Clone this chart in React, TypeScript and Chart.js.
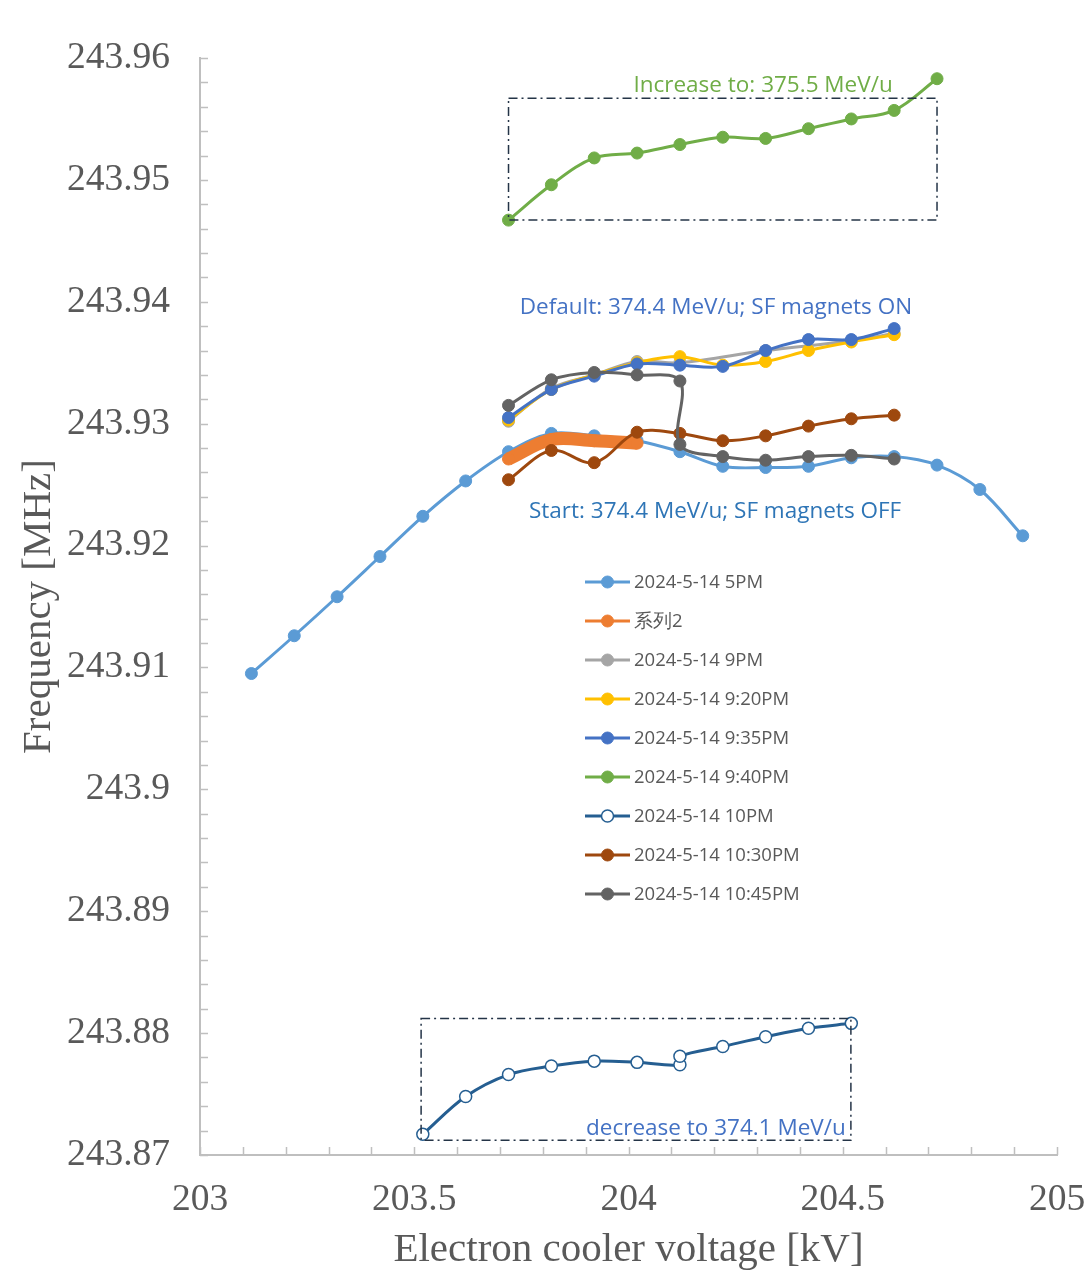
import React, { useEffect, useRef } from "react";
import { Chart, registerables } from "chart.js";

Chart.register(...registerables);

// ---------- tick labels ----------
const xTickValues = [203, 203.5, 204, 204.5, 205];
const yTickValues = [243.87, 243.88, 243.89, 243.9, 243.91, 243.92, 243.93, 243.94, 243.95, 243.96];

// ---------- series names ----------
const seriesNames = [
  "2024-5-14 5PM",
  "系列2",
  "2024-5-14 9PM",
  "2024-5-14 9:20PM",
  "2024-5-14 9:35PM",
  "2024-5-14 9:40PM",
  "2024-5-14 10PM",
  "2024-5-14 10:30PM",
  "2024-5-14 10:45PM",
];

// ---------- series values ----------
const x5PM = [203.12, 203.22, 203.32, 203.42, 203.52, 203.62, 203.72, 203.82, 203.92, 204.02, 204.12, 204.22, 204.32, 204.42, 204.52, 204.62, 204.72, 204.82, 204.92];
const y5PM = [243.9095, 243.9126, 243.9158, 243.9191, 243.9224, 243.9253, 243.9277, 243.9292, 243.929, 243.9286, 243.9277, 243.9265, 243.9264, 243.9265, 243.9272, 243.9273, 243.9266, 243.9246, 243.9208];

const xSeries2 = [203.72, 203.82, 203.92, 204.02];
const ySeries2 = [243.9271, 243.9287, 243.9286, 243.9284];

const x9PM = [203.72, 203.82, 203.92, 204.02, 204.12, 204.32, 204.52, 204.62];
const y9PM = [243.9302, 243.9329, 243.934, 243.9351, 243.935, 243.936, 243.9368, 243.9374];

const x920PM = [203.72, 203.82, 203.92, 204.02, 204.12, 204.22, 204.32, 204.42, 204.52, 204.62];
const y920PM = [243.9303, 243.9328, 243.934, 243.935, 243.9355, 243.9348, 243.9351, 243.936, 243.9367, 243.9373];

const x935PM = [203.72, 203.82, 203.92, 204.02, 204.12, 204.22, 204.32, 204.42, 204.52, 204.62];
const y935PM = [243.9305, 243.9328, 243.9339, 243.9349, 243.9348, 243.9347, 243.936, 243.9369, 243.9369, 243.9378];

const x940PM = [203.72, 203.82, 203.92, 204.02, 204.12, 204.22, 204.32, 204.42, 204.52, 204.62, 204.72];
const y940PM = [243.9467, 243.9496, 243.9518, 243.9522, 243.9529, 243.9535, 243.9534, 243.9542, 243.955, 243.9557, 243.9583];

const x10PM = [203.52, 203.62, 203.72, 203.82, 203.92, 204.02, 204.12, 204.12, 204.22, 204.32, 204.42, 204.52];
const y10PM = [243.8717, 243.8748, 243.8766, 243.8773, 243.8777, 243.8776, 243.8774, 243.8781, 243.8789, 243.8797, 243.8804, 243.8808];

const x1030PM = [203.72, 203.82, 203.92, 204.02, 204.12, 204.22, 204.32, 204.42, 204.52, 204.62];
const y1030PM = [243.9254, 243.9278, 243.9268, 243.9293, 243.9292, 243.9286, 243.929, 243.9298, 243.9304, 243.9307];

const x1045PM = [203.72, 203.82, 203.92, 204.02, 204.12, 204.12, 204.22, 204.32, 204.42, 204.52, 204.62];
const y1045PM = [243.9315, 243.9336, 243.9342, 243.934, 243.9335, 243.9283, 243.9273, 243.927, 243.9273, 243.9274, 243.9271];

// ---------- annotations (data coordinates) ----------
const annotationTexts = [
  "Increase to: 375.5 MeV/u",
  "Default: 374.4 MeV/u; SF magnets ON",
  "Start: 374.4 MeV/u; SF magnets OFF",
  "decrease to 374.1 MeV/u",
];
const annotationX = [204.314, 204.204, 204.202, 204.204];
const annotationY = [243.9577, 243.9395, 243.9228, 243.8722];
const annotationColors = ["#70AD47", "#4472C4", "#2E75B6", "#4472C4"];

// dash-dot boxes: [xMin, xMax, yMin, yMax]
const boxXMin = [203.72, 203.516];
const boxXMax = [204.72, 204.519];
const boxYMin = [243.9467, 243.8712];
const boxYMax = [243.9567, 243.8812];

const colors = ["#5B9BD5", "#ED7D31", "#A5A5A5", "#FFC000", "#4472C4", "#70AD47", "#255E91", "#9E480E", "#636363"];

const SERIF = '"Liberation Serif", "Times New Roman", serif';
const SANS = '"Open Sans", "Noto Sans", sans-serif';

function pts(xs: number[], ys: number[]) {
  return xs.map((x, i) => ({ x, y: ys[i] }));
}

const extrasPlugin = {
  id: "extras",
  afterDraw(chart: any) {
    const { ctx, chartArea, scales } = chart;
    const xs = scales.x;
    const ys = scales.y;
    ctx.save();
    // inside tick marks
    ctx.strokeStyle = "#BFBFBF";
    ctx.lineWidth = 1.5;
    for (let k = 0; k <= 20; k++) {
      const v = 203 + k * 0.1;
      const px = Math.round(xs.getPixelForValue(v)) + 0.5;
      ctx.beginPath();
      ctx.moveTo(px, chartArea.bottom);
      ctx.lineTo(px, chartArea.bottom - 8);
      ctx.stroke();
    }
    for (let k = 0; k <= 45; k++) {
      const v = 243.87 + k * 0.002;
      const py = Math.round(ys.getPixelForValue(v)) + 0.5;
      ctx.beginPath();
      ctx.moveTo(chartArea.left, py);
      ctx.lineTo(chartArea.left + 8, py);
      ctx.stroke();
    }
    // dash-dot boxes
    ctx.strokeStyle = "#243447";
    ctx.lineWidth = 1.5;
    ctx.setLineDash([9, 4, 2, 4]);
    for (let b = 0; b < boxXMin.length; b++) {
      const x1 = xs.getPixelForValue(boxXMin[b]);
      const x2 = xs.getPixelForValue(boxXMax[b]);
      const y1 = ys.getPixelForValue(boxYMax[b]);
      const y2 = ys.getPixelForValue(boxYMin[b]);
      ctx.strokeRect(x1, y1, x2 - x1, y2 - y1);
    }
    ctx.setLineDash([]);
    // annotation texts
    ctx.font = `22.5px ${SANS}`;
    ctx.textAlign = "center";
    ctx.textBaseline = "middle";
    for (let i = 0; i < annotationTexts.length; i++) {
      ctx.fillStyle = annotationColors[i];
      ctx.fillText(annotationTexts[i], xs.getPixelForValue(annotationX[i]), ys.getPixelForValue(annotationY[i]));
    }
    // legend
    const lx = chartArea.left + 385;
    const ly = chartArea.top + 524;
    ctx.font = `18.5px ${SANS}`;
    ctx.textAlign = "left";
    chart.data.datasets.forEach((ds: any, i: number) => {
      const y = ly + i * 39;
      ctx.strokeStyle = ds.borderColor;
      ctx.lineWidth = 3;
      ctx.beginPath();
      ctx.moveTo(lx, y);
      ctx.lineTo(lx + 45, y);
      ctx.stroke();
      ctx.beginPath();
      ctx.arc(lx + 22.5, y, 6, 0, Math.PI * 2);
      ctx.fillStyle = ds.pointBackgroundColor;
      ctx.fill();
      ctx.lineWidth = ds.pointBorderWidth || 1;
      ctx.strokeStyle = ds.pointBorderColor;
      ctx.stroke();
      ctx.fillStyle = "#595959";
      ctx.fillText(ds.label, lx + 49, y + 1);
    });
    ctx.restore();
  },
};

export default function App() {
  const ref = useRef<HTMLCanvasElement>(null);
  useEffect(() => {
    if (!ref.current) return;
    const allX = [x5PM, xSeries2, x9PM, x920PM, x935PM, x940PM, x10PM, x1030PM, x1045PM];
    const allY = [y5PM, ySeries2, y9PM, y920PM, y935PM, y940PM, y10PM, y1030PM, y1045PM];
    const datasets = seriesNames.map((name, i) => {
      const hollow = i === 6;
      return {
        label: name,
        data: pts(allX[i], allY[i]),
        borderColor: colors[i],
        backgroundColor: colors[i],
        pointBackgroundColor: hollow ? "#FFFFFF" : colors[i],
        pointBorderColor: colors[i],
        pointBorderWidth: hollow ? 1.5 : 1,
        pointRadius: 6,
        borderWidth: i === 1 ? 13 : 3,
        tension: 0.35,
        showLine: true,
        fill: false,
        order: -i,
      };
    });
    const chart = new Chart(ref.current, {
      type: "line",
      data: { datasets },
      options: {
        responsive: false,
        animation: false,
        events: [],
        layout: { padding: { left: 0, top: 58, right: 30, bottom: 0 } },
        plugins: { legend: { display: false }, tooltip: { enabled: false } },
        scales: {
          x: {
            type: "linear",
            min: 203,
            max: 205,
            afterBuildTicks: (s: any) => {
              s.ticks = xTickValues.map((v) => ({ value: v }));
            },
            afterFit: (s: any) => {
              s.height = 125;
            },
            grid: {
              display: true,
              drawOnChartArea: false,
              drawTicks: true,
              tickLength: 23,
              tickColor: "rgba(0,0,0,0)",
            },
            border: { display: true, color: "#BFBFBF", width: 2 },
            ticks: {
              font: { family: SERIF, size: 37.5 },
              color: "#595959",
              padding: 0,
              maxRotation: 0,
              callback: (v: any) => String(parseFloat(Number(v).toFixed(2))),
            },
            title: {
              display: true,
              text: "Electron cooler voltage [kV]",
              font: { family: SERIF, size: 41 },
              color: "#595959",
              padding: { top: 0, bottom: 5 },
            },
          },
          y: {
            type: "linear",
            min: 243.87,
            max: 243.96,
            afterBuildTicks: (s: any) => {
              s.ticks = yTickValues.map((v) => ({ value: v }));
            },
            afterFit: (s: any) => {
              s.width = 200;
            },
            grid: { display: false, drawTicks: false },
            border: { display: true, color: "#BFBFBF", width: 2 },
            ticks: {
              font: { family: SERIF, size: 37.5 },
              color: "#595959",
              padding: 30,
              callback: (v: any) => String(parseFloat(Number(v).toFixed(2))),
            },
            title: {
              display: true,
              text: "Frequency [MHz]",
              font: { family: SERIF, size: 41 },
              color: "#595959",
              padding: { top: 15, bottom: 0 },
            },
          },
        },
      },
      plugins: [extrasPlugin],
    } as any);
    return () => chart.destroy();
  }, []);
  return (
    <div style={{ position: "absolute", left: 0, top: 0, width: 1087, height: 1280, background: "#FFFFFF" }}>
      <canvas ref={ref} width={1087} height={1280} style={{ display: "block", width: 1087, height: 1280 }} />
    </div>
  );
}
